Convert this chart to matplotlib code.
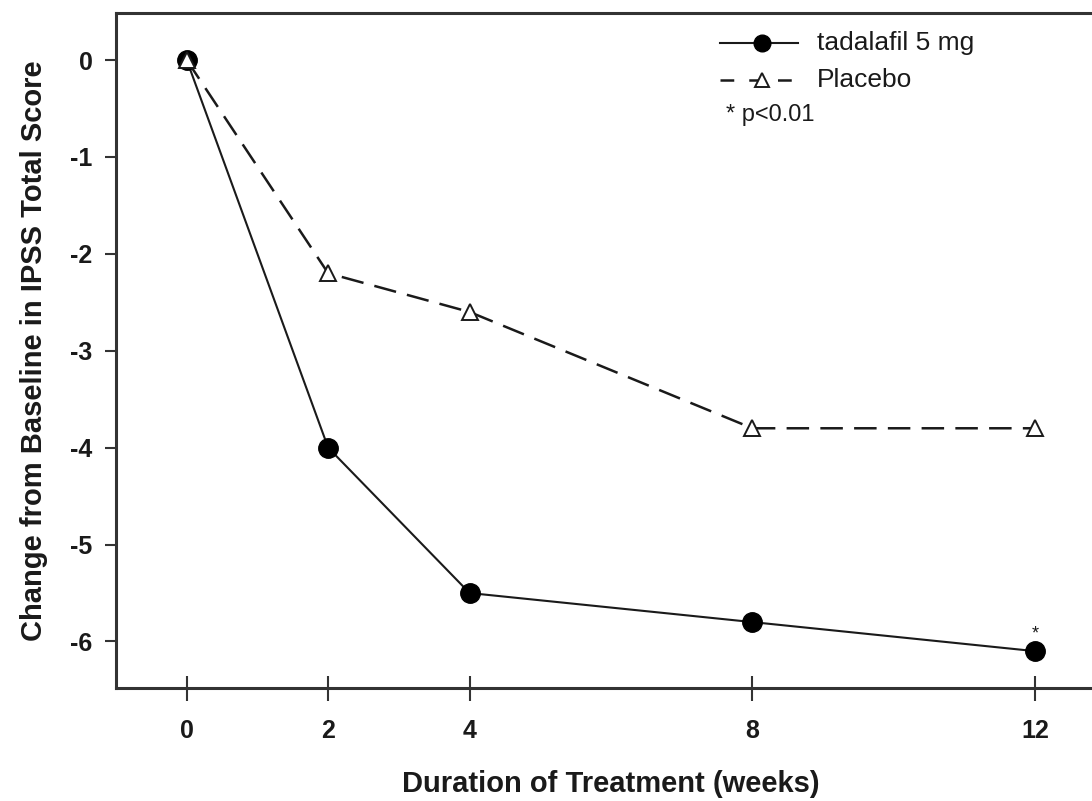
import matplotlib
matplotlib.use("Agg")
import matplotlib.pyplot as plt

weeks = [0, 2, 4, 8, 12]
tadalafil = [0.0, -4.0, -5.5, -5.8, -6.1]
placebo = [0.0, -2.2, -2.6, -3.8, -3.8]
yticks = [0, -1, -2, -3, -4, -5, -6]
xlabel = "Duration of Treatment (weeks)"
ylabel = "Change from Baseline in IPSS Total Score"
legend_labels = ["tadalafil 5 mg", "Placebo"]
note = "* p<0.01"

plt.rcParams['font.family'] = ['Liberation Sans', 'DejaVu Sans']

W, H = 1092, 801
L, R, T, B = 116, 1106, 13, 688
fig = plt.figure(figsize=(W / 100, H / 100), dpi=100)
ax = fig.add_axes([L / W, (H - B) / H, (R - L) / W, (B - T) / H])


def ax_xy(px, py):
    return (px - L) / (R - L), 1 - (py - T) / (B - T)


ink = '#1a1a1a'
dash = (0, (9, 4.5))

ax.plot(weeks, tadalafil, color=ink, lw=1.5, marker='o', markersize=14,
        markerfacecolor='black', markeredgecolor='black', zorder=3)
ax.plot(weeks, placebo, color=ink, lw=1.8, ls=dash, marker='^',
        markersize=12, markerfacecolor='white', markeredgecolor=ink,
        markeredgewidth=1.4, zorder=4)

ax.text(12, -5.92, '*', ha='center', va='center', fontsize=13, color=ink)

ax.set_xlim(-1, 13)
ax.set_ylim(-6.48, 0.485)
ax.set_xticks(weeks)
ax.set_xticklabels([str(w) for w in weeks], fontsize=18, fontweight='bold', color=ink)
ax.set_yticks(yticks)
ax.set_yticklabels([str(t) for t in yticks], fontsize=18, fontweight='bold', color=ink)
ax.tick_params(axis='y', direction='out', length=8, width=1.5, pad=9, color='#333333')
ax.tick_params(axis='x', direction='inout', length=18, width=1.5, pad=13.5, color='#333333')

for s in ax.spines.values():
    s.set_linewidth(2.2)
    s.set_color('#333333')

ax.set_xlabel(xlabel, fontsize=21, fontweight='bold', labelpad=19, color=ink)
ax.set_ylabel(ylabel, fontsize=21, fontweight='bold', labelpad=16, color=ink)

# legend drawn in axes coordinates
x0, _ = ax_xy(720, 0)
x1, _ = ax_xy(798, 0)
xm, _ = ax_xy(762, 0)
xt, _ = ax_xy(817, 0)
_, y1 = ax_xy(0, 43)
_, y2 = ax_xy(0, 80)
_, y3 = ax_xy(0, 115)
ax.plot([x0, x1], [y1, y1], color=ink, lw=1.5, transform=ax.transAxes, clip_on=False)
ax.plot([xm], [y1], marker='o', markersize=12, color='black', transform=ax.transAxes, clip_on=False)
ax.plot([x0, x1], [y2, y2], color=ink, lw=1.8, ls=(0, (5.5, 6)), transform=ax.transAxes, clip_on=False)
ax.plot([xm], [y2], marker='^', markersize=10, markerfacecolor='white', markeredgecolor=ink,
        markeredgewidth=1.4, transform=ax.transAxes, clip_on=False, zorder=5)
ax.text(xt, y1, legend_labels[0], transform=ax.transAxes, fontsize=19, va='center', ha='left', color=ink)
ax.text(xt, y2, legend_labels[1], transform=ax.transAxes, fontsize=19, va='center', ha='left', color=ink)
xn, _ = ax_xy(726, 0)
ax.text(xn, y3, note, transform=ax.transAxes, fontsize=17, va='center', ha='left', color=ink)

fig.savefig("out.png", dpi=100)
